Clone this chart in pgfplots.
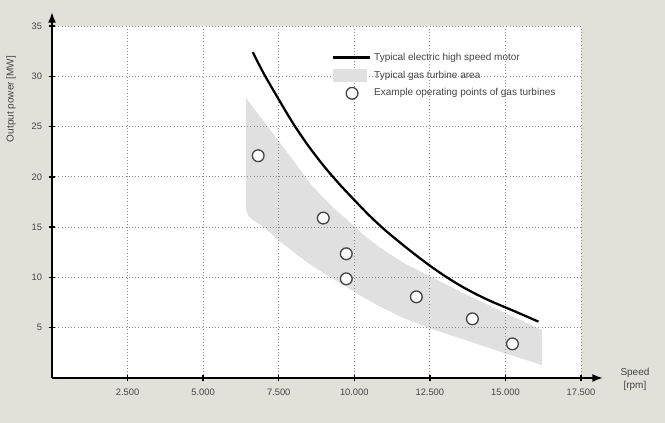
\documentclass[border=0pt]{standalone}
\usepackage{pgfplots}
\pgfplotsset{compat=1.18}
\usepackage{fontspec}
\setmainfont{Liberation Sans}
\usetikzlibrary{arrows.meta}

\definecolor{bgcol}{RGB}{225,225,218}
\definecolor{bandcol}{RGB}{224,224,224}
\definecolor{ringcol}{RGB}{70,70,70}
\definecolor{txtcol}{RGB}{68,68,68}
\definecolor{gridcol}{RGB}{140,140,140}

\pgfplotsset{
  common/.style={
    scale only axis,
    width=396.75pt, height=264pt,
    xmin=0, xmax=17500, ymin=0, ymax=35,
    enlargelimits=false,
    clip=false,
  },
  linelegend/.style={legend image code/.code={\draw[##1] (0pt,0pt) -- (27.75pt,0pt);}},
  bandlegend/.style={legend image code/.code={\fill[bandcol] (0pt,-4.5pt) rectangle (25pt,4.5pt);}},
  ringlegend/.style={legend image code/.code={\draw[mark repeat=2, mark phase=2, ##1] plot coordinates {(0pt,0pt) (14pt,0pt) (28pt,0pt)};}},
}

\begin{document}
\begin{tikzpicture}
\path[use as bounding box, fill=bgcol] (-39pt,-33.75pt) rectangle (459.75pt,283.5pt);

% axis 1: white area, band, grid and axis lines
\begin{axis}[
  common,
  axis background/.style={fill=white},
  axis on top,
  axis x line=bottom, axis y line=left,
  x axis line style={line width=1.4pt, -{Latex[length=8pt,width=6pt]}, shorten >=-16.5pt},
  y axis line style={line width=1.4pt, -{Latex[length=8pt,width=6pt]}, shorten >=-10.5pt},
  xtick={2500,5000,...,17500},
  ytick={5,10,...,35},
  tick align=center,
  major tick length=5pt,
  tick style={line width=1pt, black},
  grid=major,
  grid style={dotted, gridcol, line width=0.7pt},
  scaled x ticks=false,
  /pgf/number format/.cd, 1000 sep={.}, assume math mode=true,
  /pgfplots/.cd,
  ticklabel style={font=\fontsize{7}{8}\selectfont, text=txtcol},
  xticklabel style={yshift=-2pt},
  yticklabel style={xshift=-1.5pt},
  xlabel={Speed\\{[rpm]}},
  xlabel style={at={(rel axis cs:1.102,-0.003)}, anchor=center, align=center,
    font=\fontsize{7.5}{9.75}\selectfont, text=txtcol},
  ylabel={Output power [MW]},
  ylabel style={at={(rel axis cs:-0.0775,0.7926)}, anchor=center,
    font=\fontsize{7.5}{9}\selectfont, text=txtcol},
]
% gas turbine band: upper edge left to right, then lower edge right to left
\addplot[fill=bandcol, draw=none] coordinates {
  (6420,27.84) (7545,23.37) (8637,18.99) (9300,16.95) (9960,15.2) (10400,14.0)
  (10854,12.95) (11600,11.5) (12500,10.1) (13700,8.3) (14935,6.55) (16204,4.77)
  (16204,1.29) (15000,2.45) (13700,3.75) (12500,4.94) (11600,6.0) (10854,7.09)
  (10200,8.2) (9530,9.42) (8647,11.07) (8000,12.5) (7500,13.7) (6992,15.04)
  (6700,15.6) (6500,16.1) (6420,16.7)
} -- cycle;
\end{axis}

% axis 2: curve, operating points and legend
\begin{axis}[
  common,
  hide axis,
  legend style={at={(rel axis cs:0.5293,0.932)}, anchor=north west,
    draw=none, fill=none, font=\fontsize{7.5}{9}\selectfont, text=txtcol,
    row sep=2.5pt, inner sep=0pt},
  legend cell align=left,
]
\addplot[black, line width=1.7pt, smooth, linelegend] coordinates {
  (6640,32.4) (7000,30.3) (7500,27.7) (8000,25.2) (8500,23.0) (9000,21.05)
  (9500,19.3) (10000,17.7) (10500,16.15) (11000,14.75) (11500,13.5)
  (12000,12.3) (12500,11.17) (13000,10.13) (13500,9.2) (14000,8.38)
  (14500,7.66) (15000,7.02) (15500,6.38) (16093,5.6)
};
\addlegendentry{Typical electric high speed motor}
\addlegendimage{bandlegend}
\addlegendentry{Typical gas turbine area}
\addplot[only marks, mark=*, mark size=4.4pt,
  mark options={fill=white, draw=ringcol, line width=1pt}, ringlegend] coordinates {
  (6821,22.1) (8974,15.9) (9735,12.35) (9735,9.86)
  (12053,8.07) (13907,5.88) (15232,3.39)
};
\addlegendentry{Example operating points of gas turbines}
\end{axis}
\end{tikzpicture}
\end{document}
